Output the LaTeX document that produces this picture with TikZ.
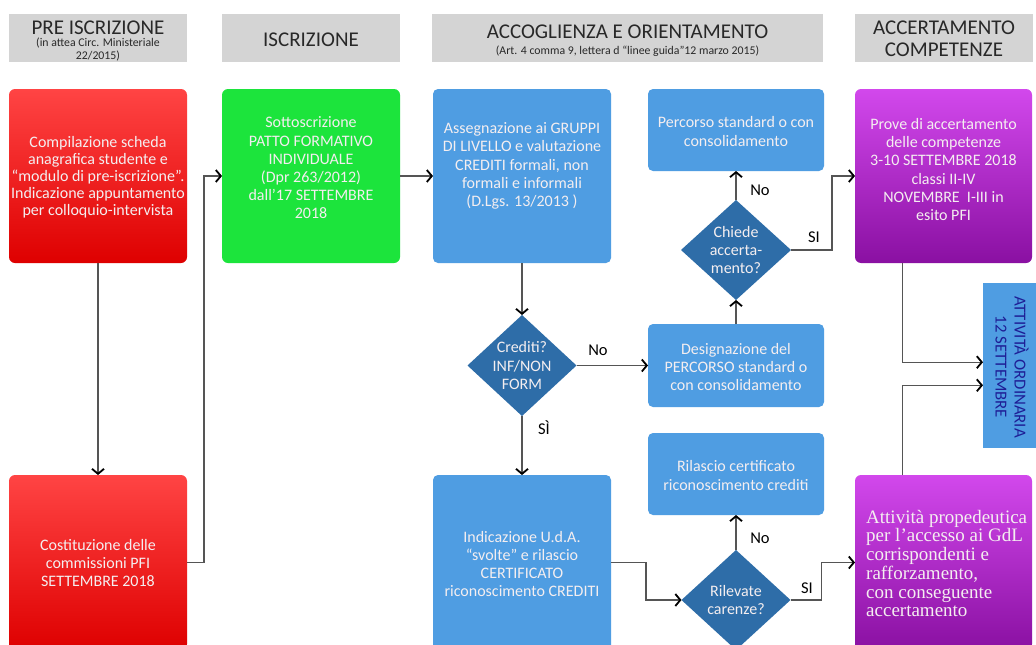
\documentclass[tikz,border=0pt]{standalone}
\usepackage{fontspec}
\setmainfont{Carlito}
\newfontfamily\serifp{Liberation Serif}
\usetikzlibrary{shapes.geometric,arrows.meta,calc}
\definecolor{hdrgray}{RGB}{212,212,212}
\definecolor{hdrtext}{RGB}{40,40,40}
\definecolor{redtop}{RGB}{255,68,68}
\definecolor{redbot}{RGB}{222,0,0}
\definecolor{grn}{RGB}{28,228,60}
\definecolor{blu}{RGB}{79,157,226}
\definecolor{dblu}{RGB}{46,109,168}
\definecolor{purtop}{RGB}{210,72,236}
\definecolor{purbot}{RGB}{138,16,162}
\definecolor{boxtxt}{RGB}{244,238,240}
\definecolor{linegray}{RGB}{85,85,85}
\definecolor{attivc}{RGB}{30,30,150}
\tikzset{
  hdrbox/.style={rectangle, fill=hdrgray, inner sep=0pt, outer sep=0pt, minimum height=48pt},
  hdrtitle/.style={text=hdrtext, align=center, inner sep=0pt, font=\fontsize{21}{22}\selectfont},
  hdrsub/.style={text=hdrtext, align=center, inner sep=0pt, font=\fontsize{11.8}{13}\selectfont},
  shape box/.style={rectangle, inner sep=0pt, outer sep=0pt},
  redbox/.style={shape box, rounded corners=6pt, top color=redtop, bottom color=redbot},
  grnbox/.style={shape box, rounded corners=6pt, fill=grn},
  blubox/.style={shape box, rounded corners=5pt, fill=blu},
  purbox/.style={shape box, rounded corners=6pt, top color=purtop, bottom color=purbot},
  dia/.style={diamond, fill=dblu, inner sep=0pt, outer sep=0pt},
  btxt/.style={text=boxtxt, align=center, inner sep=0pt, font=\fontsize{16}{18.2}\selectfont},
  lbl/.style={text=black, inner sep=0pt, font=\fontsize{16.5}{18}\selectfont},
  conn/.style={draw=linegray, line width=1.3pt, -{Straight Barb[length=5pt,width=12pt,line width=1.8pt,color=black]}},
}
\begin{document}
\begin{tikzpicture}[x=1pt,y=-1pt]
\clip (0,0) rectangle (1036,645);
\fill[white] (0,0) rectangle (1036,645);
% headers
\node[hdrbox, minimum width=178pt] (h1) at (98,38) {};
\node[hdrtitle] (h1t) at (98,28) {PRE ISCRIZIONE};
\node[hdrsub] (h1s) at (98,50) {(in attea Circ. Ministeriale\\22/2015)};
\node[hdrbox, minimum width=178pt] (h2) at (311,38) {};
\node[hdrtitle] (h2t) at (311,40) {ISCRIZIONE};
\node[hdrbox, minimum width=391pt] (h3) at (627.5,38) {};
\node[hdrtitle] (h3t) at (627.5,32) {ACCOGLIENZA E ORIENTAMENTO};
\node[hdrsub] (h3s) at (627.5,51) {(Art. 4 comma 9, lettera d “linee guida”12 marzo 2015)};
\node[hdrbox, minimum width=178pt] (h4) at (944,38) {};
\node[hdrtitle] (h4t) at (944,39) {ACCERTAMENTO\\COMPETENZE};
% boxes row 1
\node[redbox, minimum width=178pt, minimum height=174pt] (red1) at (98,176) {};
\node[btxt, font=\fontsize{16}{17}\selectfont] (red1t) at (98,177) {Compilazione scheda\\anagrafica studente e\\“modulo di pre-iscrizione”.\\Indicazione appuntamento\\per colloquio-intervista};
\node[grnbox, minimum width=178pt, minimum height=174pt] (grn) at (311,176) {};
\node[btxt] (grnt) at (311,168) {Sottoscrizione\\PATTO FORMATIVO\\INDIVIDUALE\\(Dpr 263/2012)\\dall’17 SETTEMBRE\\2018};
\node[blubox, minimum width=178pt, minimum height=174pt] (blu1) at (522,176) {};
\node[btxt] (blu1t) at (522,166) {Assegnazione ai GRUPPI\\DI LIVELLO e valutazione\\CREDITI formali, non\\formali e informali\\(D.Lgs. 13/2013 )};
\node[blubox, minimum width=176pt, minimum height=82pt] (perc) at (736,130) {};
\node[btxt] (perct) at (736,131.5) {Percorso standard o con\\consolidamento};
\node[purbox, minimum width=177pt, minimum height=174pt] (pur1) at (943.5,176) {};
\node[btxt] (pur1t) at (943.5,169.5) {Prove di accertamento\\delle competenze\\3-10 SETTEMBRE 2018\\classi II-IV\\NOVEMBRE\ \ I-III in\\esito PFI};
% diamonds
\node[dia, minimum width=110pt, minimum height=100pt] (chiede) at (736,250) {};
\node[btxt] (chiedet) at (736,250) {Chiede\\accerta-\\mento?};
\node[dia, minimum width=109pt, minimum height=101pt] (crediti) at (522,365.5) {};
\node[btxt] (creditit) at (522,365.5) {Crediti?\\INF/NON\\FORM};
\node[dia, minimum width=109pt, minimum height=100pt] (rilev) at (736,600) {};
\node[btxt] (rilevt) at (736,600) {Rilevate\\carenze?};
% middle boxes
\node[blubox, minimum width=176pt, minimum height=83pt] (desig) at (736,365.5) {};
\node[btxt] (desigt) at (736,367) {Designazione del\\PERCORSO standard o\\con consolidamento};
\node[blubox, minimum width=176pt, minimum height=82pt] (rilas) at (736,474) {};
\node[btxt] (rilast) at (736,475.5) {Rilascio certificato\\riconoscimento crediti};
\node[shape box, fill=blu, minimum width=56pt, minimum height=165pt] (attiv) at (1011,365.5) {};
\node[btxt, text=attivc, rotate=-90, font=\fontsize{16.8}{19}\selectfont] (attivt) at (1012,367) {ATTIVITÀ ORDINARIA\\12 SETTEMBRE};
% bottom boxes
\node[redbox, minimum width=178pt, minimum height=175pt] (red2) at (98,562.5) {};
\node[btxt] (red2t) at (98,563) {Costituzione delle\\commissioni PFI\\SETTEMBRE 2018};
\node[blubox, minimum width=178pt, minimum height=175pt] (blu2) at (522,562.5) {};
\node[btxt] (blu2t) at (522,564) {Indicazione U.d.A.\\“svolte” e rilascio\\CERTIFICATO\\riconoscimento CREDITI};
\node[purbox, minimum width=177pt, minimum height=175pt] (pur2) at (943.5,562.5) {};
\node[btxt, align=left, anchor=west, font=\serifp\fontsize{19}{18.7}\selectfont] (pur2t) at (866,563.5) {Attività propedeutica\\per l’accesso ai GdL\\corrispondenti e\\rafforzamento,\\con conseguente\\accertamento};
% connectors
\draw[conn] (red1.south) -- (red2.north);
\draw[conn] (red2.east) -- ++(17,0) |- (grn.west);
\draw[conn] (grn.east) -- (blu1.west);
\draw[conn] (blu1.south) -- (crediti.north);
\draw[conn] (crediti.east) -- (desig.west);
\draw[conn] (crediti.south) -- (blu2.north);
\draw[conn] (desig.north) -- (chiede.south);
\draw[conn] (chiede.north) -- (perc.south);
\draw[conn] (chiede.east) -- ++(41,0) |- (pur1.west);
\draw[conn] (blu2.east) -- ++(35,0) |- (rilev.west);
\draw[conn] (rilev.north) -- (rilas.south);
\draw[conn] (rilev.east) -- ++(31,0) |- (pur2.west);
\coordinate (p1) at ($(pur1.south west)!0.27!(pur1.south east)$);
\coordinate (p2) at ($(pur2.north west)!0.27!(pur2.north east)$);
\coordinate (a1) at ($(attiv.north west)!0.48!(attiv.south west)$);
\coordinate (a2) at ($(attiv.north west)!0.62!(attiv.south west)$);
\draw[conn] (p1) |- (a1);
\draw[conn] (p2) |- (a2);
% labels
\node[lbl] (l1) at (598,350) {No};
\node[lbl] (l2) at (544,428) {SÌ};
\node[lbl] (l3) at (760,190) {No};
\node[lbl] (l4) at (814,237) {SI};
\node[lbl] (l5) at (760,538) {No};
\node[lbl] (l6) at (807,588) {SI};
\end{tikzpicture}
\end{document}
